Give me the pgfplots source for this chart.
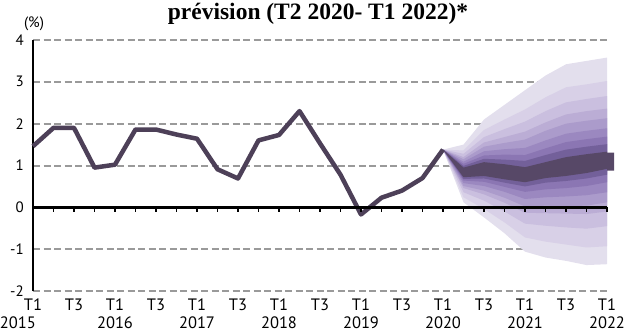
\documentclass[border=0pt]{standalone}
\usepackage{pgfplots}
\pgfplotsset{compat=1.18}
\usepackage{pgfplotstable}
\usepgfplotslibrary{fillbetween}
\usepackage{fontspec}
\setmainfont{PT Sans}
\newfontfamily\titlefont{Liberation Serif}

\definecolor{c8}{HTML}{E3DFED}
\definecolor{c7}{HTML}{D8D0E7}
\definecolor{c6}{HTML}{CABFDF}
\definecolor{c5}{HTML}{BBADD5}
\definecolor{c4}{HTML}{AB9BCB}
\definecolor{c3}{HTML}{9B88C0}
\definecolor{c2}{HTML}{8B76B3}
\definecolor{c1}{HTML}{73609A}
\definecolor{cd}{HTML}{574867}
\definecolor{linec}{HTML}{4D4058}
\definecolor{gridc}{HTML}{9A9A9A}

\pgfplotstableread{
x y
0 1.46
1 1.90
2 1.90
3 0.95
4 1.02
5 1.86
6 1.86
7 1.74
8 1.64
9 0.91
10 0.69
11 1.60
12 1.73
13 2.30
14 1.53
15 0.78
16 -0.17
17 0.23
18 0.40
19 0.70
20 1.38
}\hist

\pgfplotstableread{
x T U8 U7 U6 U5 U4 U3 U2 Dp Dm L2 L3 L4 L5 L6 L7 L8 B
20 1.38 1.38 1.38 1.38 1.38 1.38 1.38 1.38 1.38 1.38 1.38 1.38 1.38 1.38 1.38 1.38 1.38 1.38
21 1.50 1.36 1.28 1.20 1.15 1.09 1.04 0.99 0.95 0.72 0.68 0.64 0.58 0.51 0.46 0.36 0.24 0.12
22 2.10 1.85 1.68 1.55 1.45 1.34 1.24 1.16 1.08 0.75 0.69 0.61 0.51 0.40 0.31 0.16 -0.04 -0.24
23 2.45 2.10 1.87 1.68 1.54 1.39 1.26 1.14 1.03 0.67 0.59 0.49 0.37 0.23 0.11 -0.10 -0.36 -0.62
24 2.80 2.34 2.05 1.81 1.62 1.42 1.25 1.11 0.96 0.60 0.50 0.37 0.20 0.02 -0.13 -0.39 -0.72 -1.06
25 3.15 2.63 2.30 2.03 1.83 1.60 1.41 1.25 1.08 0.70 0.59 0.43 0.24 0.04 -0.14 -0.44 -0.82 -1.20
26 3.42 2.87 2.51 2.22 2.00 1.76 1.56 1.38 1.20 0.75 0.63 0.46 0.26 0.03 -0.15 -0.48 -0.89 -1.28
27 3.50 2.94 2.59 2.30 2.07 1.83 1.63 1.45 1.27 0.82 0.69 0.51 0.29 0.04 -0.16 -0.51 -0.96 -1.38
28 3.58 3.02 2.66 2.36 2.13 1.89 1.69 1.51 1.33 0.92 0.78 0.60 0.36 0.12 -0.10 -0.45 -0.93 -1.36
}\fan

\begin{document}
\begin{tikzpicture}
\begin{axis}[
  at={(0,0)}, anchor=south west, scale only axis,
  width=574pt, height=251pt,
  xmin=0, xmax=28, ymin=-2, ymax=4,
  clip=false,
  axis x line*=bottom, axis y line*=left,
  x axis line style={draw=none},
  y axis line style={line width=2.4pt, black},
  xtick={0,2,...,28},
  xticklabels={{T1\\\makebox[0pt][l]{\hspace*{-33pt}2015}},T3,{T1\\2016},T3,{T1\\2017},T3,{T1\\2018},T3,{T1\\2019},T3,{T1\\2020},T3,{T1\\2021},T3,{T1\\2022}},
  ytick={-2,-1,0,1,2,3,4},
  yticklabels={-2,-1,0,1,2,3,4},
  ymajorgrids,
  grid style={gridc, line width=2pt, dash pattern=on 7pt off 3.5pt},
  major tick length=0pt,
  xticklabel style={font=\fontsize{16.5}{17.5}\selectfont, align=center, anchor=north, inner sep=0pt, yshift=-8pt},
  yticklabel style={font=\fontsize{15}{16}\selectfont, anchor=east, inner sep=0pt, xshift=-9pt},
]
\addplot[draw=none, name path=T] table[x=x,y=T]{\fan};
\addplot[draw=none, name path=U8] table[x=x,y=U8]{\fan};
\addplot[draw=none, name path=U7] table[x=x,y=U7]{\fan};
\addplot[draw=none, name path=U6] table[x=x,y=U6]{\fan};
\addplot[draw=none, name path=U5] table[x=x,y=U5]{\fan};
\addplot[draw=none, name path=U4] table[x=x,y=U4]{\fan};
\addplot[draw=none, name path=U3] table[x=x,y=U3]{\fan};
\addplot[draw=none, name path=U2] table[x=x,y=U2]{\fan};
\addplot[draw=none, name path=Dp] table[x=x,y=Dp]{\fan};
\addplot[draw=none, name path=Dm] table[x=x,y=Dm]{\fan};
\addplot[draw=none, name path=L2] table[x=x,y=L2]{\fan};
\addplot[draw=none, name path=L3] table[x=x,y=L3]{\fan};
\addplot[draw=none, name path=L4] table[x=x,y=L4]{\fan};
\addplot[draw=none, name path=L5] table[x=x,y=L5]{\fan};
\addplot[draw=none, name path=L6] table[x=x,y=L6]{\fan};
\addplot[draw=none, name path=L7] table[x=x,y=L7]{\fan};
\addplot[draw=none, name path=L8] table[x=x,y=L8]{\fan};
\addplot[draw=none, name path=B] table[x=x,y=B]{\fan};
\addplot[fill=c8, draw=none] fill between[of=T and B];
\addplot[fill=c7, draw=none] fill between[of=U8 and L8];
\addplot[fill=c6, draw=none] fill between[of=U7 and L7];
\addplot[fill=c5, draw=none] fill between[of=U6 and L6];
\addplot[fill=c4, draw=none] fill between[of=U5 and L5];
\addplot[fill=c3, draw=none] fill between[of=U4 and L4];
\addplot[fill=c2, draw=none] fill between[of=U3 and L3];
\addplot[fill=c1, draw=none] fill between[of=U2 and L2];
\addplot[fill=cd, draw=none] fill between[of=Dp and Dm];
\addplot[fill=cd, draw=none] coordinates {(28,0.88) (28.35,0.88) (28.35,1.31) (28,1.31) (28,0.88)};
\addplot[linec, line width=4.5pt, line join=round] table[x=x,y=y]{\hist};
\addplot[black, line width=2.4pt] coordinates {(0,0) (28,0)};
\addplot[only marks, mark=|, mark size=2.2pt, mark options={black, line width=1.6pt, yshift=-2.2pt}] coordinates {
(0,0)(1,0)(2,0)(3,0)(4,0)(5,0)(6,0)(7,0)(8,0)(9,0)(10,0)(11,0)(12,0)(13,0)(14,0)(15,0)(16,0)(17,0)(18,0)(19,0)(20,0)(21,0)(22,0)(23,0)(24,0)(25,0)(26,0)(27,0)(28,0)};
\end{axis}
\node[anchor=base, font=\fontsize{15}{16}\selectfont] at (1pt,263pt) {(\%)};
\node[anchor=base, font=\titlefont\bfseries\fontsize{23.5}{26}\selectfont] at (285pt,271.5pt) {prévision (T2 2020- T1 2022)*};
\pgfresetboundingbox
\path[use as bounding box] (-33pt,-41pt) rectangle (593pt,291pt);
\end{tikzpicture}
\end{document}
